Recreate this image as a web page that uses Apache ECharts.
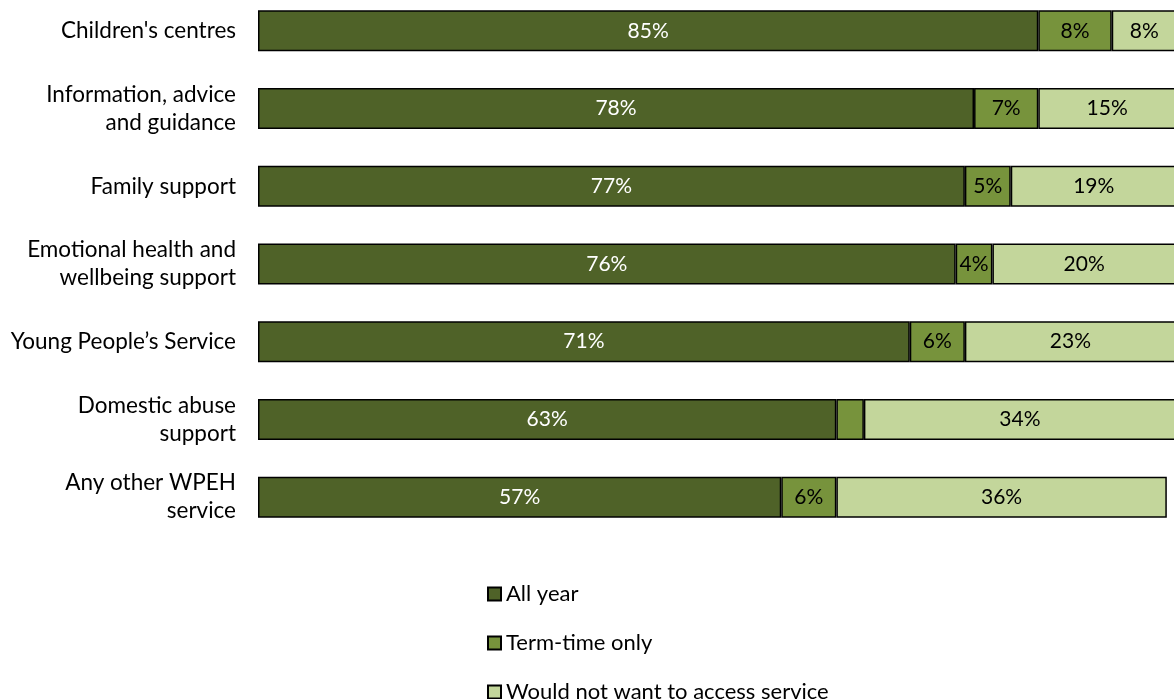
<!DOCTYPE html>
<html>
<head>
<meta charset="utf-8">
<script src="https://cdn.jsdelivr.net/npm/echarts@6/dist/echarts.min.js"></script>
<style>
  html, body { margin: 0; padding: 0; background: #fff; }
  #chart { width: 1174px; height: 699px; }
</style>
</head>
<body>
<div id="chart"></div>
<script>
// Service categories (top to bottom)
const categories = [
  "Children's centres",
  "Information, advice\nand guidance",
  "Family support",
  "Emotional health and\nwellbeing support",
  "Young People\u2019s Service",
  "Domestic abuse\nsupport",
  "Any other WPEH\nservice"
];

// Percentages per response
const allYear      = [85, 78, 77, 76, 71, 63, 57];
const termTimeOnly = [8, 7, 5, 4, 6, 3, 6];
const wouldNot     = [8, 15, 19, 20, 23, 34, 36];

// Segments too narrow to carry a label
const hideLabelBelow = 4;

const seriesNames = ['All year', 'Term-time only', 'Would not want to access service'];
const seriesColors = ['#4F6228', '#77933C', '#C3D69B'];
const labelColors = ['#ffffff', '#000000', '#000000'];
const seriesData = [allYear, termTimeOnly, wouldNot];

const fontFamily = 'Lato, "Open Sans", sans-serif';

// One legend block per entry, stacked in a single column
const legendTop = 583;
const legendStep = 49;
const legends = seriesNames.map((name, i) => ({
  orient: 'vertical',
  left: 487,
  top: legendTop + i * legendStep,
  padding: 0,
  itemWidth: 13,
  itemHeight: 13,
  icon: 'rect',
  textStyle: { color: '#000', fontFamily: fontFamily, fontSize: 22, lineHeight: 18 },
  data: [name]
}));

const chart = echarts.init(document.getElementById('chart'), null, { renderer: 'canvas' });

chart.setOption({
  animation: false,
  backgroundColor: '#ffffff',
  grid: {
    left: 258, top: -8, width: 918, height: 544,
    containLabel: false, outerBoundsMode: 'none'
  },
  xAxis: {
    type: 'value', min: 0, max: 100, show: false
  },
  yAxis: {
    type: 'category',
    data: categories,
    inverse: true,
    axisLine: { show: false },
    axisTick: { show: false },
    axisLabel: {
      color: '#000',
      fontFamily: fontFamily,
      fontSize: 22.5,
      lineHeight: 28,
      margin: 22,
      align: 'right'
    }
  },
  legend: legends,
  series: seriesNames.map((name, i) => ({
    name: name,
    type: 'bar',
    stack: 'total',
    barWidth: 41,
    itemStyle: { color: seriesColors[i], borderColor: '#000', borderWidth: 1.5 },
    label: {
      show: true,
      position: 'inside',
      color: labelColors[i],
      fontFamily: fontFamily,
      fontSize: 21,
      formatter: p => p.value + '%'
    },
    data: seriesData[i].map(v => (
      v < hideLabelBelow ? { value: v, label: { show: false } } : v
    ))
  }))
});
</script>
</body>
</html>
